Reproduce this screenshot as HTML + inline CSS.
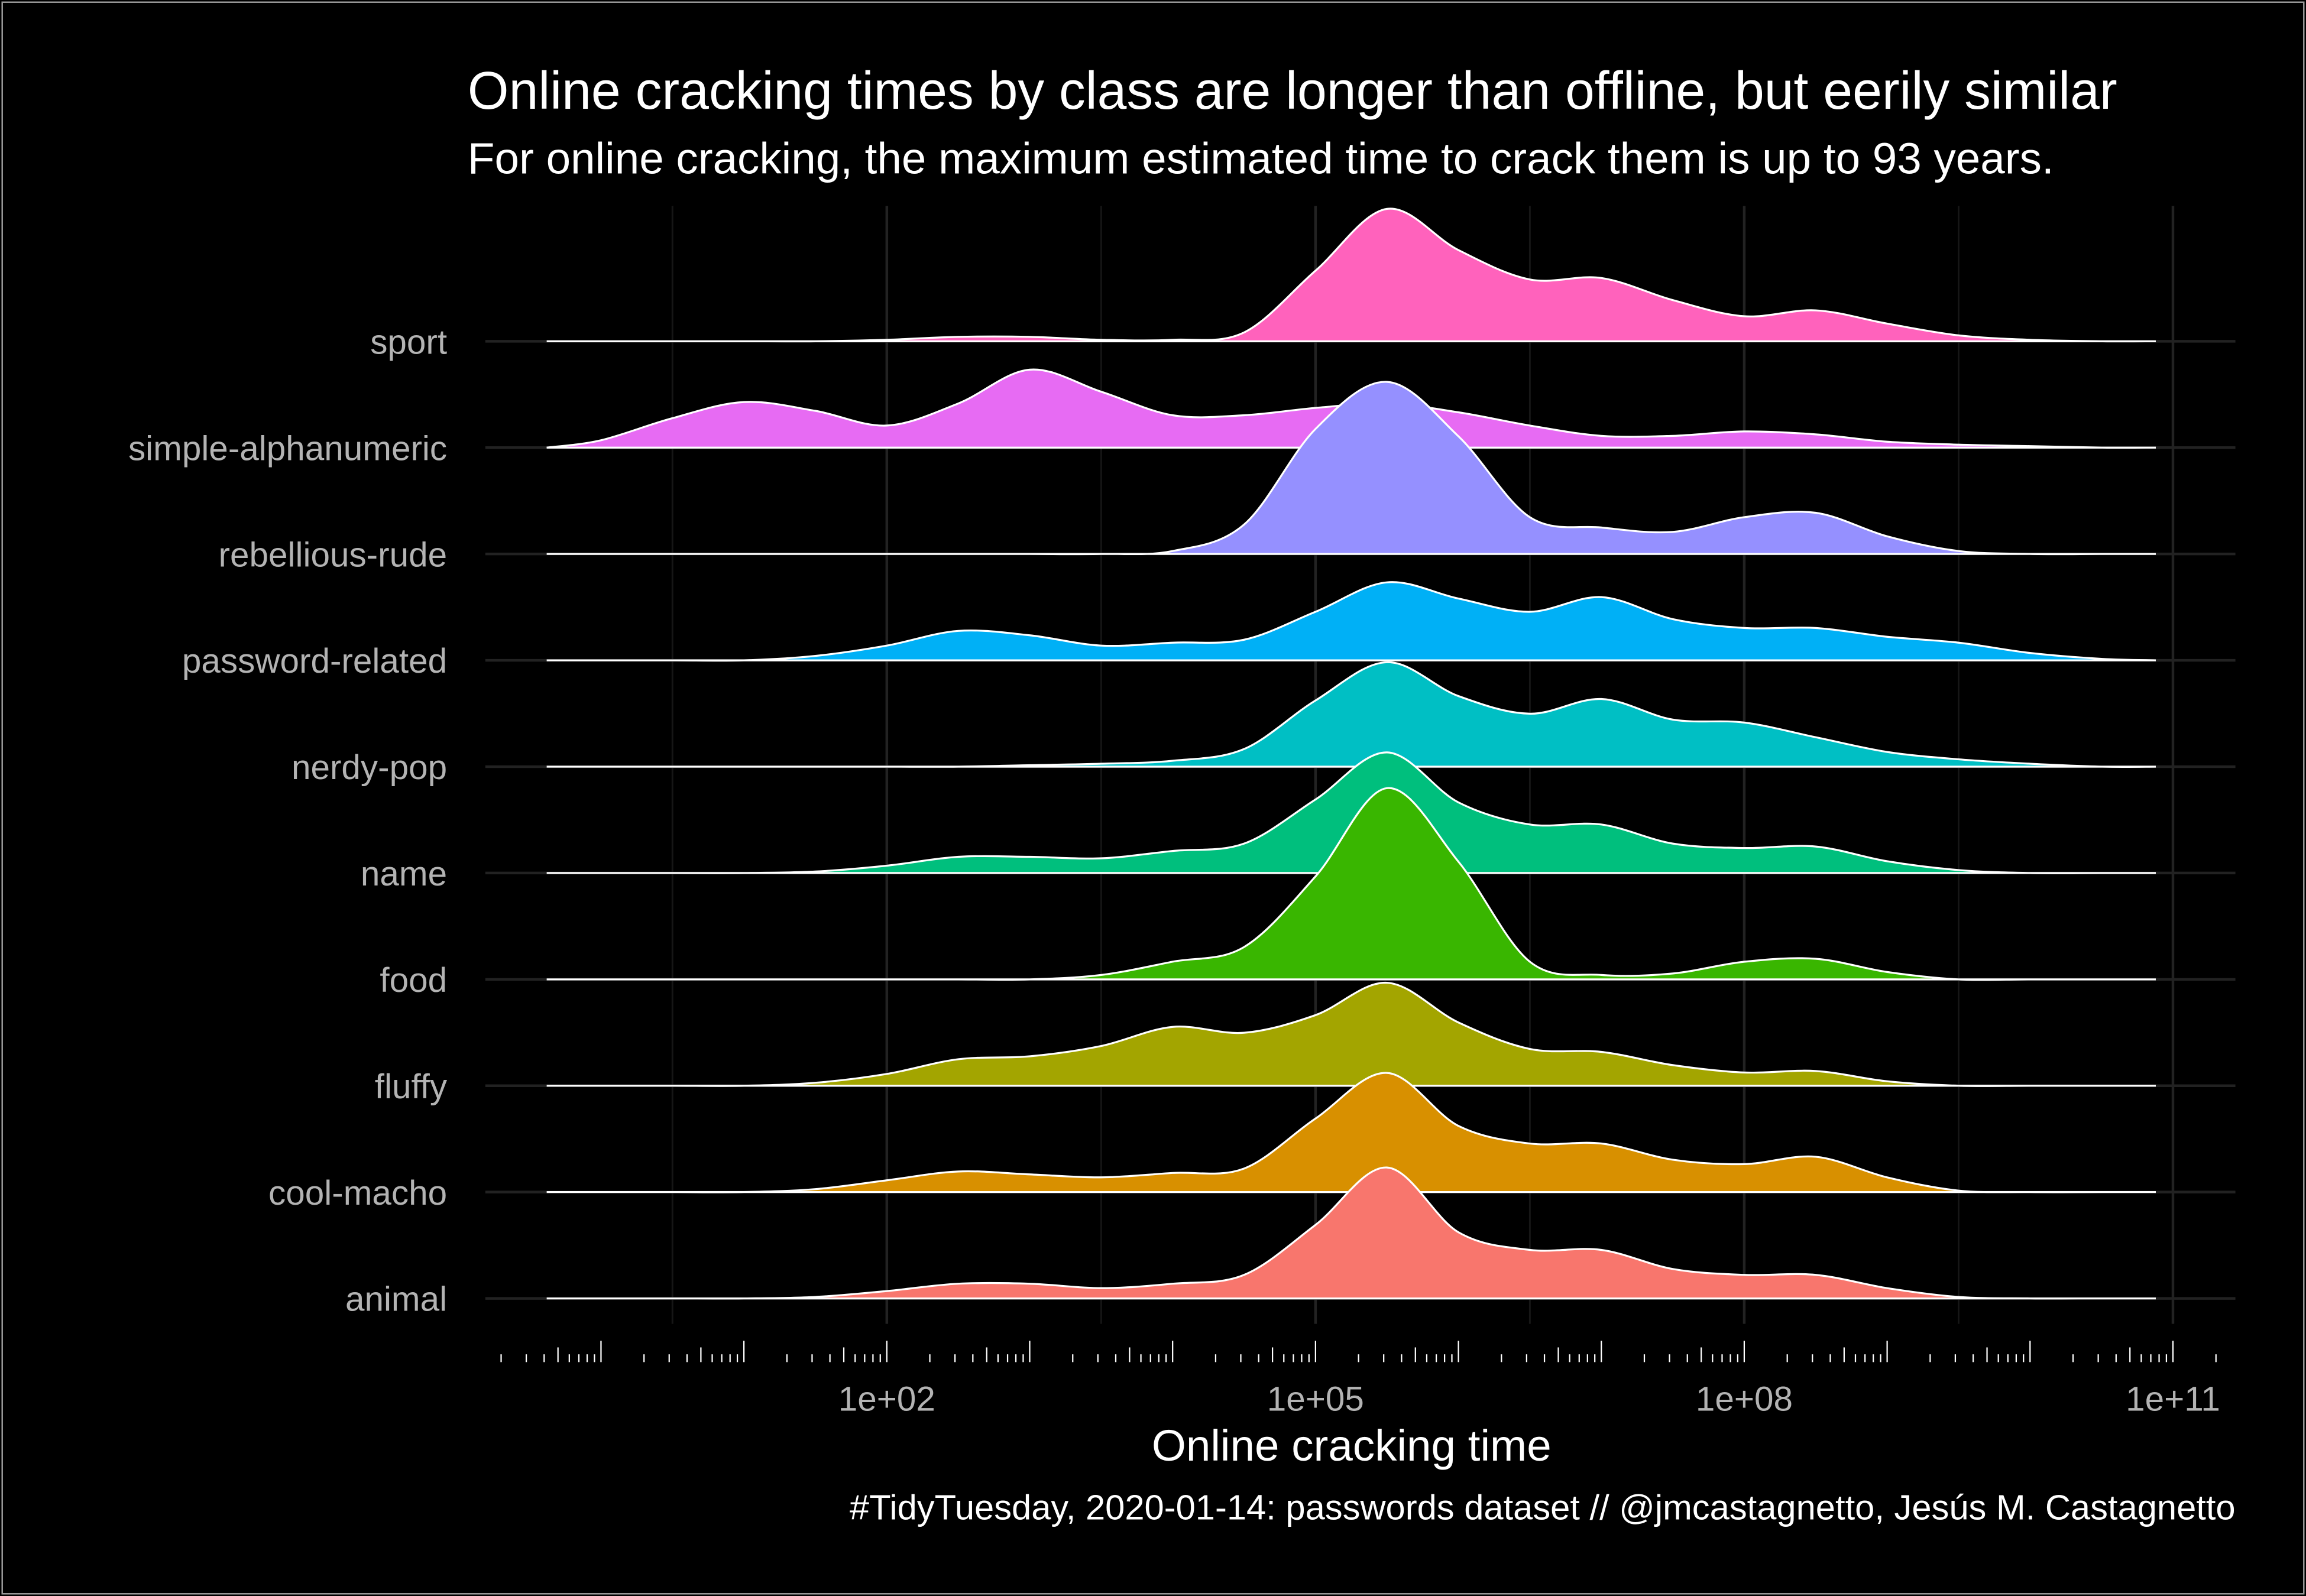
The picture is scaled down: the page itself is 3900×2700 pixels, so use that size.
<!DOCTYPE html>
<html><head><meta charset="utf-8"><style>
html,body{margin:0;padding:0;background:#000;}
svg{display:block;}
text{font-family:"Liberation Sans",sans-serif;}
</style></head><body>
<svg id="chart" width="3900" height="2700" viewBox="0 0 1568 1085" preserveAspectRatio="none" xmlns="http://www.w3.org/2000/svg">
<rect x="0" y="0" width="1568" height="1085" fill="#000"/>
<rect x="1.5" y="1.5" width="1565" height="1082" fill="none" stroke="#9a9a9a" stroke-width="1"/>
<g id="grid"></g>
<g id="ridges"></g>
<g id="ticks"></g>
<text x="318" y="74" fill="#fff" font-size="36">Online cracking times by class are longer than offline, but eerily similar</text>
<text x="318" y="118" fill="#fff" font-size="30">For online cracking, the maximum estimated time to crack them is up to 93 years.</text>
<text x="919" y="993" fill="#fff" font-size="30" text-anchor="middle">Online cracking time</text>
<text x="1520" y="1033" fill="#fff" font-size="24" text-anchor="end">#TidyTuesday, 2020-01-14: passwords dataset // @jmcastagnetto, Jesús M. Castagnetto</text>
</svg>
<script>
const categories = ["sport","simple-alphanumeric","rebellious-rude","password-related","nerdy-pop","name","food","fluffy","cool-macho","animal"];
const colors = ["#FF62BC","#E76BF3","#9590FF","#00B0F6","#00BFC4","#00BF7D","#39B600","#A3A500","#D89000","#F8766D"];
const logGrid = [-0.38,0,0.5,1,1.5,2,2.5,3,3.5,4,4.5,5,5.5,6,6.5,7,7.5,8,8.5,9,9.5,10,10.5,10.88];
const dSport  = [0,0,0,0,0,1,3,3,1,1,6,48,90,62,42,43,28,17,21,12,4,1,0,0];
const dSimple = [0,5,20,31,25,15,30,53,38,22,22,27,30,24,15,8,8,11,9,4,2,1,0,0];
const dRebel  = [0,0,0,0,0,0,0,0,0,2,20,85,117,80,25,18,15,25,28,12,2,0,0,0];
const dPass   = [0,0,0,0,3,10,20,17,10,12,14,33,53,42,33,43,28,22,22,16,12,5,1,0];
const dNerdy  = [0,0,0,0,0,0,0,1,2,4,12,45,71,48,36,46,32,30,20,10,5,2,0,0];
const dName   = [0,0,0,0,1,5,11,11,10,15,20,50,82,48,33,33,20,17,18,8,2,0,0,0];
const dFood   = [0,0,0,0,0,0,0,0,3,12,22,70,130,80,12,3,4,12,14,5,0,0,0,0];
const dFluffy = [0,0,0,0,2,8,18,20,27,40,36,48,70,43,25,23,14,9,10,3,0,0,0,0];
const dCool   = [0,0,0,0,2,8,14,12,10,13,16,50,81,45,33,33,22,19,24,10,1,0,0,0];
const dAnimal = [0,0,0,0,1,5,10,10,7,10,16,50,89,45,33,33,20,16,16,7,1,0,0,0];
const densities = [dSport,dSimple,dRebel,dPass,dNerdy,dName,dFood,dFluffy,dCool,dAnimal];
const majorTicks = [2,5,8,11];
const majorLabels = ["1e+02","1e+05","1e+08","1e+11"];
const minorGrid = [0.5,3.5,6.5,9.5];

const NS="http://www.w3.org/2000/svg";
function xs(l){return 603+(l-2)*97.17;}
function ys(i){return 232+i*72.3;}
function hs(d){return d*1;}
function mk(tag,attrs,parent){const e=document.createElementNS(NS,tag);for(const k in attrs)e.setAttribute(k,attrs[k]);parent.appendChild(e);return e;}
const grid=document.getElementById('grid');
minorGrid.forEach(v=>{const l=mk('line',{x1:xs(v),x2:xs(v),y1:140,y2:900,stroke:'#161616','stroke-width':1.2},grid);

});
majorTicks.forEach((v,i)=>{const l=mk('line',{x1:xs(v),x2:xs(v),y1:140,y2:900,stroke:'#222','stroke-width':1.8},grid);


const t=mk('text',{x:xs(v),y:959,fill:'#b3b3b3','font-size':23.5,'text-anchor':'middle'},grid);t.textContent=majorLabels[i];

});
categories.forEach((c,i)=>{const l=mk('line',{x1:330,x2:1520,y1:ys(i),y2:ys(i),stroke:'#222','stroke-width':1.8},grid);


const t=mk('text',{x:304,y:ys(i)+8.5,fill:'#b3b3b3','font-size':23.5,'text-anchor':'end'},grid);t.textContent=c;

});
function curve(pts){let d='M'+pts[0][0]+','+pts[0][1];for(let i=0;i<pts.length-1;i++){const p0=pts[Math.max(0,i-1)],p1=pts[i],p2=pts[i+1],p3=pts[Math.min(pts.length-1,i+2)];
const c1=[p1[0]+(p2[0]-p0[0])/6,p1[1]+(p2[1]-p0[1])/6],c2=[p2[0]-(p3[0]-p1[0])/6,p2[1]-(p3[1]-p1[1])/6];
d+=' C'+c1[0]+','+c1[1]+' '+c2[0]+','+c2[1]+' '+p2[0]+','+p2[1];}return d;}
const ridges=document.getElementById('ridges');
categories.forEach((c,i)=>{const base=ys(i);const pts=logGrid.map((l,j)=>[xs(l),base-hs(densities[i][j])]);
const top=curve(pts);
const f=mk('path',{d:top+' L'+xs(logGrid[logGrid.length-1])+','+base+' L'+xs(logGrid[0])+','+base+' Z',fill:colors[i],stroke:'none'},ridges);


const o=mk('path',{d:top+' L'+xs(logGrid[logGrid.length-1])+','+base+' L'+xs(logGrid[0])+','+base+' Z',fill:'none',stroke:'#fff','stroke-width':1.3},ridges);

});
const ticks=document.getElementById('ticks');
for(let k=-1;k<=11;k++){for(let m=2;m<=10;m++){const l=k+Math.log10(m);if(l<-0.8||l>11.35)continue;
const top=m===10?911.5:(m===5?916:920.7);
const t=mk('line',{x1:xs(l),x2:xs(l),y1:top,y2:926,stroke:'#fff','stroke-width':0.9},ticks);

}}
</script>
</body></html>
